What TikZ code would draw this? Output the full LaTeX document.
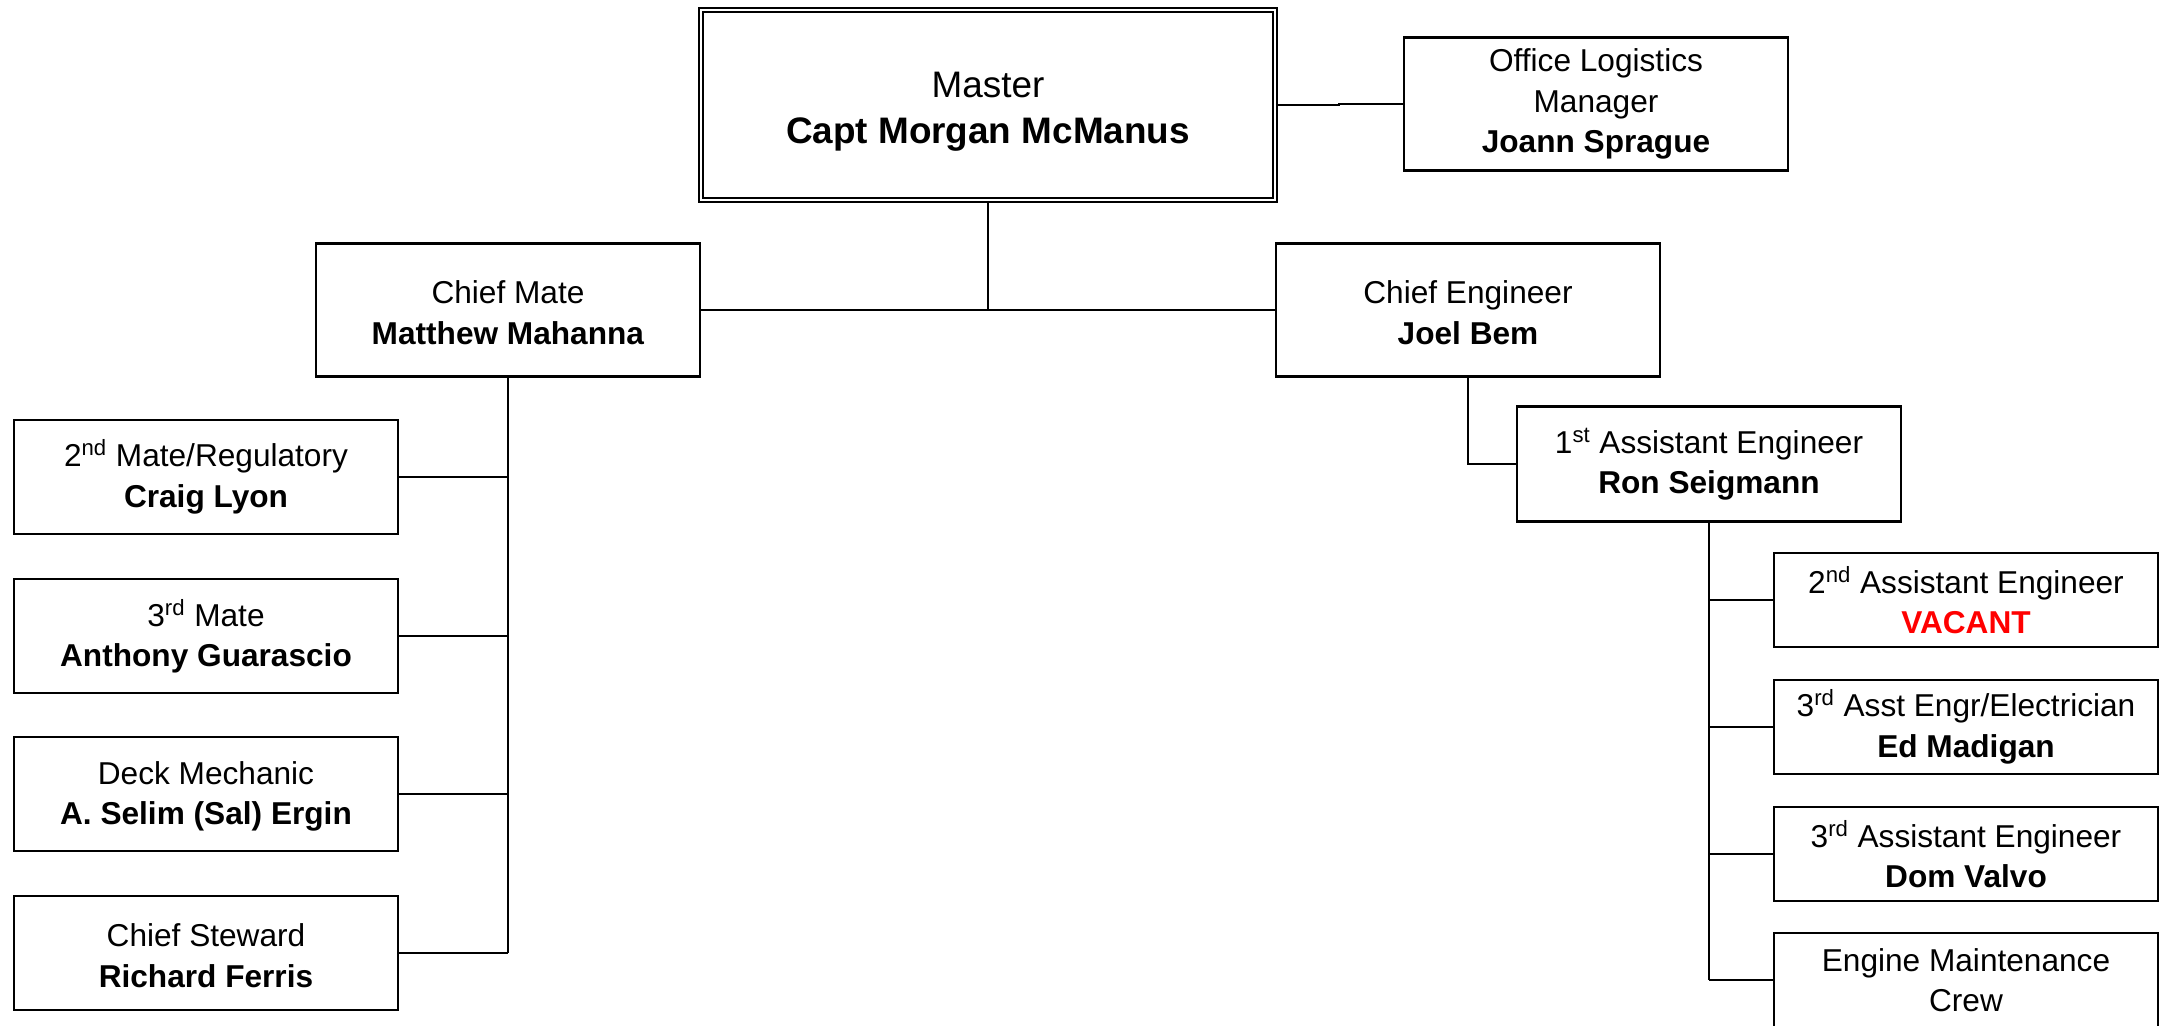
\documentclass[tikz,border=0pt]{standalone}
\usepackage{fontspec}
\setmainfont{Liberation Sans}
\begin{document}
\begin{tikzpicture}[x=0.02cm, y=-0.02cm,
  every node/.style={font=\fontsize{18}{23}\selectfont},
  box/.style={draw, line width=1.2pt, minimum width=7.68cm, minimum height=2.66cm, align=center, inner sep=0pt},
  mate/.style={box, minimum height=2.28cm},
  engr/.style={box, minimum height=1.88cm},
  link/.style={line width=1.2pt}]
\useasboundingbox (0,0) rectangle (2167,1025);
\node[box, double, line width=1pt, double distance=1.6pt, minimum width=11.48cm, minimum height=3.8cm,
  font=\fontsize{21}{26}\selectfont] (M) at (988,105) {\rule{0pt}{22pt}Master\\\textbf{Capt Morgan McManus}};
\node[box] (OL) at (1596,104) {Office Logistics\\Manager\\\textbf{Joann Sprague}};
\node[box] (CM) at (508,310) {\rule{0pt}{16pt}Chief Mate\\\textbf{Matthew Mahanna}};
\node[box] (CE) at (1468,310) {\rule{0pt}{16pt}Chief Engineer\\\textbf{Joel Bem}};
\node[box, minimum height=2.3cm] (A1) at (1709,464) {1\textsuperscript{st} Assistant Engineer\\\textbf{Ron Seigmann}};
% deck side
\node[mate] (M2) at (206,477) {2\textsuperscript{nd} Mate/Regulatory\\\textbf{Craig Lyon}};
\node[mate] (M3) at (206,636) {3\textsuperscript{rd} Mate\\\textbf{Anthony Guarascio}};
\node[mate] (DM) at (206,794) {\rule{0pt}{16pt}Deck Mechanic\\\textbf{A. Selim (Sal) Ergin}};
\node[mate] (CS) at (206,953) {\rule{0pt}{16pt}Chief Steward\\\textbf{Richard Ferris}};
% engine side
\node[engr] (E2) at (1966,600) {2\textsuperscript{nd} Assistant Engineer\\\textcolor{red}{\textbf{VACANT}}};
\node[engr] (E3) at (1966,727) {3\textsuperscript{rd} Asst Engr/Electrician\\\textbf{Ed Madigan}};
\node[engr] (E3b) at (1966,854) {3\textsuperscript{rd} Assistant Engineer\\\textbf{Dom Valvo}};
\node[engr] (EM) at (1966,980) {Engine Maintenance\\Crew};
\draw[link] (M.south) -- (M.south |- CM.east);
\draw[link] (CM.east) -- (CE.west);
\draw[link] (M.east) -- ++(63,0) |- (OL.west);
\draw[link] (CM.south) -- (CM.south |- CS.east);
\foreach \n in {M2,M3,DM,CS} \draw[link] (\n.east) -- (\n.east -| CM.south);
\draw[link] (CE.south) |- (A1.west);
\draw[link] (A1.south) -- (A1.south |- EM.west);
\foreach \n in {E2,E3,E3b,EM} \draw[link] (\n.west) -- (\n.west -| A1.south);
\end{tikzpicture}
\end{document}
